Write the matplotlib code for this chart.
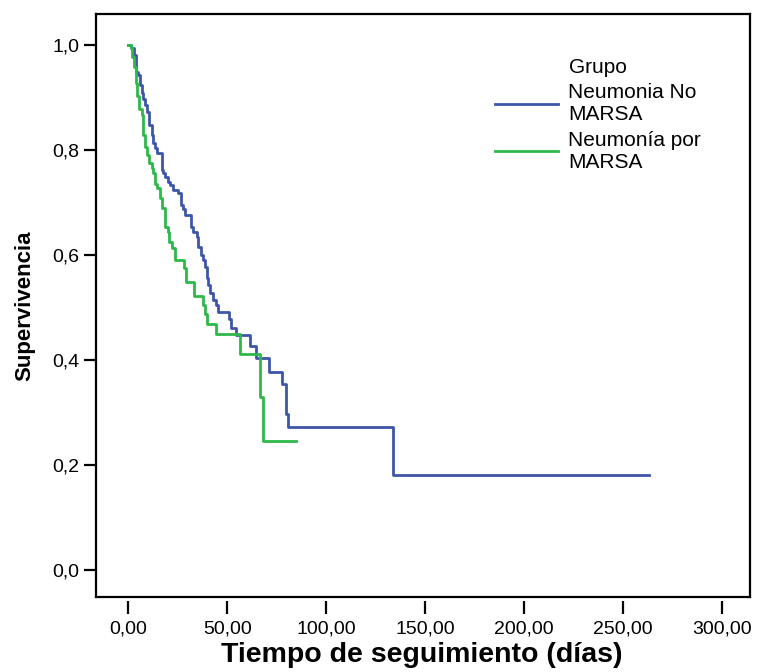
import matplotlib
matplotlib.use('Agg')
import matplotlib.pyplot as plt
from matplotlib.lines import Line2D

# Kaplan-Meier curves: time of each step and survival after it
t_no_marsa = [0, 1.5, 3.2, 4.0, 4.9, 6.1, 6.9, 7.7, 8.6, 9.4, 10.8, 12.0, 12.8, 13.6,
              14.8, 17.0, 17.8, 18.7, 19.9, 21.2, 22.9, 25.4, 26.6, 27.9, 28.8, 31.7,
              33.0, 34.7, 35.5, 36.7, 37.7, 38.9, 39.7, 40.6, 41.4, 43.1, 44.4, 45.6,
              50.7, 51.9, 54.5, 61.6, 64.4, 71.3, 77.5, 79.8, 80.5, 133.6, 263.0]
s_no_marsa = [1.0, 0.994, 0.981, 0.949, 0.943, 0.924, 0.908, 0.898, 0.886, 0.873, 0.848,
              0.829, 0.813, 0.803, 0.794, 0.762, 0.756, 0.749, 0.740, 0.733, 0.724, 0.718,
              0.695, 0.687, 0.676, 0.654, 0.644, 0.635, 0.616, 0.600, 0.590, 0.578, 0.556,
              0.543, 0.527, 0.514, 0.505, 0.492, 0.479, 0.462, 0.448, 0.427, 0.404, 0.378,
              0.354, 0.298, 0.273, 0.182, 0.182]

t_marsa = [0, 1.5, 2.0, 3.2, 3.9, 4.7, 5.7, 6.9, 7.7, 8.7, 9.7, 10.8, 12.0, 12.8, 13.6,
           14.8, 16.2, 17.0, 18.7, 19.9, 20.9, 22.1, 23.7, 28.0, 29.3, 33.5, 37.7, 38.9,
           39.7, 44.4, 56.5, 66.5, 68.3, 85.0]
s_marsa = [1.0, 0.994, 0.978, 0.959, 0.927, 0.902, 0.879, 0.867, 0.829, 0.806, 0.790,
           0.775, 0.765, 0.756, 0.736, 0.727, 0.708, 0.689, 0.654, 0.644, 0.625, 0.613,
           0.590, 0.575, 0.549, 0.522, 0.505, 0.487, 0.469, 0.450, 0.411, 0.330, 0.246,
           0.246]

groups = ['Neumonia No\nMARSA', 'Neumonía por\nMARSA']
colors = ['#3d56a8', '#2eb84a']

xticks = [0, 50, 100, 150, 200, 250, 300]
xticklabels = ['0,00', '50,00', '100,00', '150,00', '200,00', '250,00', '300,00']
yticks = [0.0, 0.2, 0.4, 0.6, 0.8, 1.0]
yticklabels = ['0,0', '0,2', '0,4', '0,6', '0,8', '1,0']

plt.rcParams['font.family'] = ['Liberation Sans', 'DejaVu Sans']

fig = plt.figure(figsize=(7.57, 6.72), dpi=100)
ax = fig.add_axes([96 / 757, 75 / 672, 654 / 757, 583 / 672])

ax.step(t_no_marsa, s_no_marsa, where='post', color=colors[0], linewidth=2.0)
ax.step(t_marsa, s_marsa, where='post', color=colors[1], linewidth=2.0)

ax.set_xlim(-16.2, 314)
ax.set_ylim(-0.051, 1.059)

ax.set_xticks(xticks)
ax.set_xticklabels(xticklabels)
ax.set_yticks(yticks)
ax.set_yticklabels(yticklabels)
ax.tick_params(axis='x', length=9, width=1.6, pad=5, labelsize=14)
ax.tick_params(axis='y', length=9, width=1.6, pad=3, labelsize=14)

# box around the plot, x ticks sit a little below it
for side in ['left', 'right', 'top']:
    ax.spines[side].set_linewidth(1.6)
ax.spines['bottom'].set_position(('outward', 3))
ax.spines['bottom'].set_visible(False)
ax.plot([0, 1], [0, 0], transform=ax.transAxes, color='black', linewidth=1.6,
        clip_on=False, solid_capstyle='projecting')

ax.set_xlabel('Tiempo de seguimiento (días)', fontsize=20.5, fontweight='bold')
ax.set_ylabel('Supervivencia', fontsize=16, fontweight='bold')
ax.xaxis.set_label_coords(0.4985, -0.077)
ax.yaxis.set_label_coords(-0.093, 0.50)

handles = [Line2D([], [], color=c, linewidth=2.0) for c in colors]
leg = fig.legend(handles, groups, title='Grupo', loc='upper left',
                 bbox_to_anchor=(495 / 757, 1 - 58 / 672), frameon=False,
                 fontsize=15, title_fontsize=15, handlelength=3.0,
                 handletextpad=0.5, labelspacing=0.3, borderpad=0, borderaxespad=0)

fig.savefig('out.png', dpi=100)
